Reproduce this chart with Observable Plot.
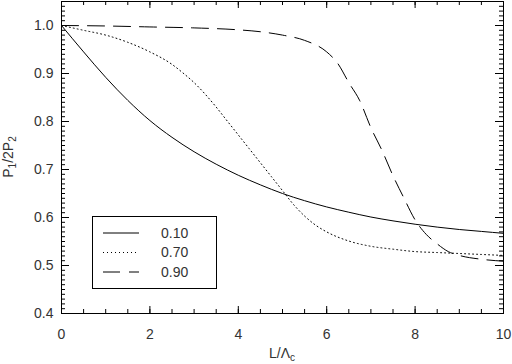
<!DOCTYPE html>
<html>
<head>
<meta charset="utf-8">
<script src="https://cdn.jsdelivr.net/npm/d3@7"></script>
<script src="https://cdn.jsdelivr.net/npm/@observablehq/plot@0.6"></script>
<style>
  html, body { margin: 0; padding: 0; background: #fff; }
</style>
</head>
<body>
<div id="chart"></div>
<script>
// Series labels
const seriesNames = ["0.10", "0.70", "0.90"];
const seriesDash = ["none", "1,3", "17,9"];

// Series 0.10 (solid)
const xA = [0, 0.5, 1, 1.5, 2, 2.5, 3, 3.5, 4, 4.5, 5, 5.5, 6, 6.5, 7, 7.5, 8, 8.5, 9, 9.5, 10];
const yA = [1.0, 0.945, 0.892, 0.844, 0.802, 0.767, 0.737, 0.711, 0.688, 0.668, 0.650, 0.635, 0.622, 0.611, 0.601, 0.593, 0.586, 0.580, 0.575, 0.571, 0.567];

// Series 0.70 (dotted)
const xB = [0, 0.5, 1, 1.5, 2, 2.5, 2.75, 3, 3.25, 3.5, 3.75, 4, 4.25, 4.5, 4.75, 5, 5.25, 5.5, 5.75, 6, 6.5, 7, 7.5, 8, 8.5, 9, 9.5, 10];
const yB = [1.0, 0.990, 0.980, 0.965, 0.945, 0.919, 0.901, 0.881, 0.857, 0.830, 0.801, 0.772, 0.743, 0.714, 0.685, 0.656, 0.627, 0.603, 0.584, 0.570, 0.551, 0.540, 0.534, 0.529, 0.527, 0.525, 0.523, 0.521];

// Series 0.90 (dashed)
const xC = [0, 1, 2, 3, 4, 4.5, 5, 5.5, 6, 6.25, 6.5, 6.75, 7, 7.25, 7.5, 7.75, 8, 8.25, 8.5, 8.75, 9, 9.5, 10];
const yC = [1.0, 0.999, 0.997, 0.995, 0.991, 0.987, 0.980, 0.969, 0.945, 0.921, 0.881, 0.843, 0.787, 0.740, 0.687, 0.640, 0.595, 0.565, 0.545, 0.529, 0.521, 0.513, 0.509];

// Ticks
const xMajor = [0, 2, 4, 6, 8, 10];
const xMinor = d3.range(0, 10.001, 0.5);
const yMajor = [0.4, 0.5, 0.6, 0.7, 0.8, 0.9, 1.0];
const yMinor = d3.range(40, 106, 1).map(v => v / 100);

const seriesX = [xA, xB, xC];
const seriesY = [yA, yB, yC];

const W = 512, H = 364;
const mL = 61, mR = 9, mT = 1, mB = 51;
const pw = W - mL - mR, ph = H - mT - mB;
const txt = "#333";
const fontFamily = "'Liberation Sans', Arial, sans-serif";

const lineMarks = seriesNames.map((name, i) =>
  Plot.line(seriesX[i].map((x, j) => ({x, y: seriesY[i][j]})), {
    x: "x", y: "y", stroke: "#000", strokeWidth: 1,
    strokeDasharray: seriesDash[i], curve: "monotone-x"
  })
);

const chart = Plot.plot({
  width: W, height: H, marginLeft: mL, marginRight: mR, marginTop: mT, marginBottom: mB,
  style: {fontFamily, fontSize: "14px", color: txt, background: "#fff"},
  x: {domain: [0, 10]}, y: {domain: [0.4, 1.05]},
  marks: [
    // inward ticks, bottom / top
    Plot.tickX(xMinor, {x: d => d, insetTop: ph - 4, stroke: "#000", strokeWidth: 1}),
    Plot.tickX(xMajor, {x: d => d, insetTop: ph - 7, stroke: "#000", strokeWidth: 1}),
    Plot.tickX(xMinor, {x: d => d, insetBottom: ph - 4, stroke: "#000", strokeWidth: 1}),
    Plot.tickX(xMajor, {x: d => d, insetBottom: ph - 7, stroke: "#000", strokeWidth: 1}),
    // inward ticks, left / right
    Plot.tickY(yMinor, {y: d => d, insetRight: pw - 4, stroke: "#000", strokeWidth: 1}),
    Plot.tickY(yMajor, {y: d => d, insetRight: pw - 8, stroke: "#000", strokeWidth: 1}),
    Plot.tickY(yMinor, {y: d => d, insetLeft: pw - 4, stroke: "#000", strokeWidth: 1}),
    Plot.tickY(yMajor, {y: d => d, insetLeft: pw - 8, stroke: "#000", strokeWidth: 1}),
    // tick labels
    Plot.axisX(xMajor, {anchor: "bottom", tickSize: 0, tickPadding: 16, tickFormat: d3.format("d"), label: null, fill: txt}),
    Plot.axisY(yMajor, {anchor: "left", tickSize: 0, tickPadding: 8, tickFormat: d3.format(".1f"), label: null, fill: txt}),
    Plot.frame({stroke: "#000"}),
    ...lineMarks
  ]
});
document.getElementById("chart").appendChild(chart);

const svg = d3.select(chart);

// Axis titles with subscripts
const xl = svg.append("text")
  .attr("x", 282).attr("y", 358)
  .attr("text-anchor", "middle")
  .attr("fill", txt).attr("font-size", 14).attr("font-family", fontFamily);
xl.append("tspan").text("L/\u039B");
xl.append("tspan").attr("font-size", 10).attr("dy", 3).text("c");

const yl = svg.append("text")
  .attr("transform", "translate(13,157) rotate(-90)")
  .attr("text-anchor", "middle")
  .attr("fill", txt).attr("font-size", 14).attr("font-family", fontFamily);
yl.append("tspan").text("P");
yl.append("tspan").attr("font-size", 10).attr("dy", 3).text("1");
yl.append("tspan").attr("dy", -3).text("/2P");
yl.append("tspan").attr("font-size", 10).attr("dy", 3).text("2");

// Legend box
const lg = svg.append("g");
lg.append("rect").attr("x", 92.5).attr("y", 216.5).attr("width", 124).attr("height", 72)
  .attr("fill", "#fff").attr("stroke", "#000");
seriesNames.forEach((name, i) => {
  const yy = 233 + i * 19.5;
  lg.append("line").attr("x1", 103).attr("x2", 139).attr("y1", yy).attr("y2", yy)
    .attr("stroke", "#000").attr("stroke-width", 1)
    .attr("stroke-dasharray", seriesDash[i]);
  lg.append("text").attr("x", 161).attr("y", yy).attr("dy", "0.35em")
    .attr("text-anchor", "start")
    .attr("fill", txt).attr("font-size", 14).attr("font-family", fontFamily).text(name);
});
</script>
</body>
</html>
